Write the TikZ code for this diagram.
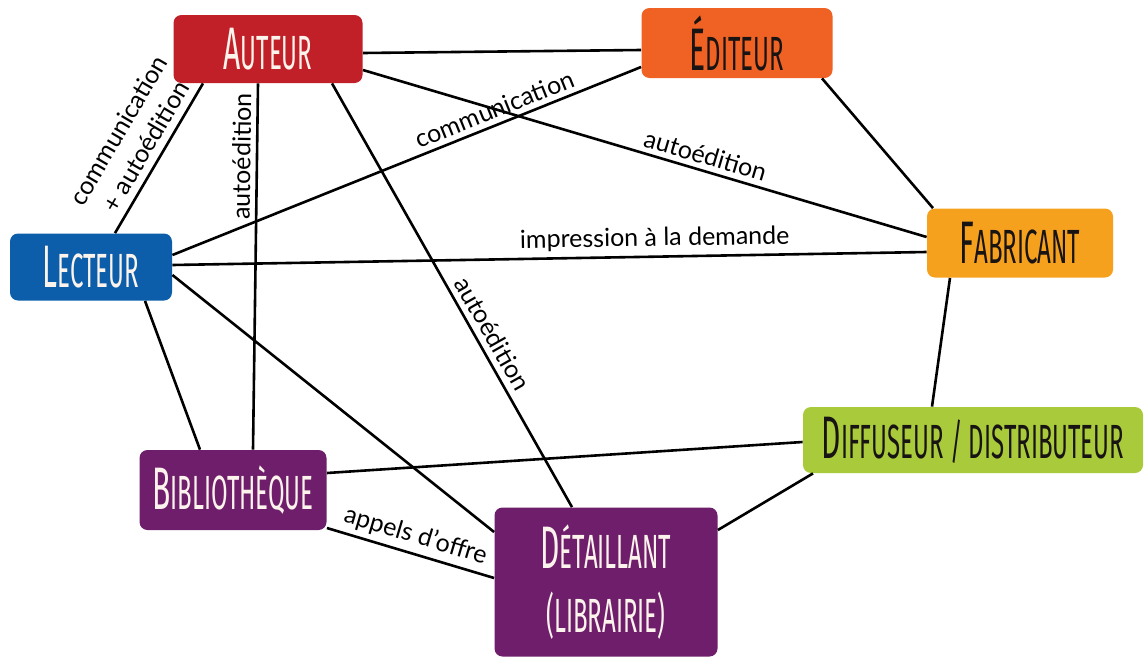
\documentclass[tikz,border=0pt]{standalone}
\usepackage{fontspec}
\setmainfont{Lato}
\newfontfamily\boxfont[FakeStretch=0.5]{Fira Sans}
\usepackage{tikz}

\definecolor{auteurred}{RGB}{193,32,41}
\definecolor{editeurorange}{RGB}{240,98,36}
\definecolor{lecteurblue}{RGB}{13,94,170}
\definecolor{fabricantorange}{RGB}{246,161,30}
\definecolor{diffuseurgreen}{RGB}{169,203,59}
\definecolor{venteviolet}{RGB}{110,30,106}
\definecolor{lighttext}{RGB}{252,244,236}
\definecolor{darktext}{RGB}{25,20,20}

\newcommand{\capfirst}[1]{{\fontsize{30}{31}\selectfont #1}}

\tikzset{
  role/.style={rounded corners=4pt, inner sep=0pt, align=center,
    font={\boxfont\fontsize{24}{32}\selectfont}},
  link/.style={line width=1.3pt},
  lab/.style={font={\fontsize{12.5}{15}\selectfont}, sloped, above, inner sep=2.5pt},
}

\begin{document}
\begin{tikzpicture}[x=0.5pt, y=-0.5pt]
        \useasboundingbox (0,0) rectangle (1147,659);

        % acteurs
        \node[role, fill=auteurred, text=lighttext, minimum width=94.5pt, minimum height=34pt] (auteur) at (268,49) {\capfirst{A}UTEUR};
        \node[role, fill=editeurorange, text=darktext, minimum width=95.5pt, minimum height=35pt] (editeur) at (737,43) {\capfirst{É}DITEUR};
        \node[role, fill=lecteurblue, text=lighttext, minimum width=81pt, minimum height=33.5pt] (lecteur) at (91,267) {\capfirst{L}ECTEUR};
        \node[role, fill=fabricantorange, text=darktext, minimum width=93pt, minimum height=34.5pt] (fabricant) at (1020,243) {\capfirst{F}ABRICANT};
        \node[role, fill=diffuseurgreen, text=darktext, minimum width=170pt, minimum height=33pt] (diffuseur) at (973,440) {\capfirst{D}IFFUSEUR / DISTRIBUTEUR};
        \node[role, fill=venteviolet, text=lighttext, minimum width=93.5pt, minimum height=40pt] (biblio) at (233,490) {\capfirst{B}IBLIOTHÈQUE};
        \node[role, fill=venteviolet, text=lighttext, minimum width=111.5pt, minimum height=74.5pt] (detaillant) at (606,582) {\capfirst{D}ÉTAILLANT\\(LIBRAIRIE)};

        % liens
        \draw[link] ([yshift=-2pt]auteur.east) -- ([yshift=-3.5pt]editeur.west);
        \draw[link] ([yshift=-10.5pt]auteur.east) -- node[lab, pos=0.6] {autoédition} ([yshift=3pt]fabricant.west);
        \draw[link] ([yshift=6pt]lecteur.east) -- node[lab, pos=0.7] {communication} ([yshift=-12pt]editeur.west);
        \draw[link] ([xshift=12pt]lecteur.north) -- node[lab, pos=0.52, align=center, inner sep=3.5pt, font={\fontsize{12.5}{16}\selectfont}] {communication\\+ autoédition} ([xshift=-32.5pt]auteur.south);
        \draw[link] ([xshift=10pt]biblio.north) -- node[lab, pos=0.8] {autoédition} ([xshift=-5pt]auteur.south);
        \draw[link] ([xshift=32pt]auteur.south) -- node[lab, pos=0.61, inner sep=3pt] {autoédition} ([xshift=-17pt]detaillant.north);
        \draw[link] ([yshift=1pt]lecteur.east) -- node[lab, pos=0.64] {impression à la demande} ([yshift=-4.5pt]fabricant.west);
        \draw[link] ([xshift=27pt]lecteur.south) -- ([xshift=-16.5pt]biblio.north);
        \draw[link] ([yshift=-4pt]lecteur.east) -- ([yshift=25pt]detaillant.west);
        \draw[link] ([xshift=42.5pt]editeur.south) -- ([xshift=-43.5pt]fabricant.north);
        \draw[link] ([xshift=-35pt]fabricant.south) -- ([xshift=-20.5pt]diffuseur.north);
        \draw[link] ([yshift=8.5pt]biblio.east) -- ([yshift=-1pt]diffuseur.west);
        \draw[link] ([yshift=-19pt]biblio.east) -- node[lab, pos=0.5] {appels d’offre} ([yshift=2pt]detaillant.west);
        \draw[link] ([xshift=-80pt]diffuseur.south) -- ([yshift=26pt]detaillant.east);

    \end{tikzpicture}
\end{document}
